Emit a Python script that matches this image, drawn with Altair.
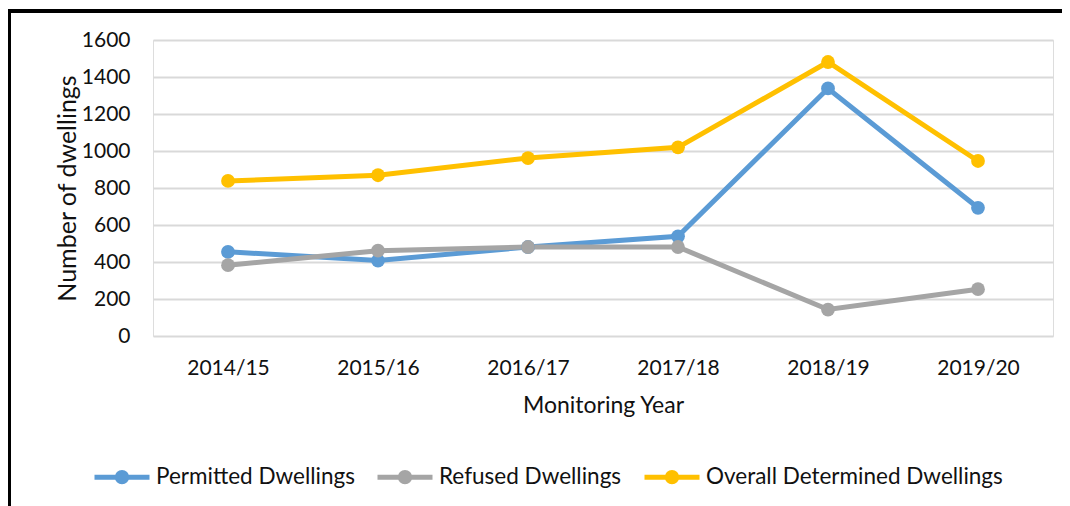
import altair as alt
import pandas as pd

years = ["2014/15", "2015/16", "2016/17", "2017/18", "2018/19", "2019/20"]
permitted = [455, 408, 481, 539, 1338, 693]
refused = [383, 461, 481, 481, 143, 253]
overall = [838, 869, 962, 1020, 1481, 946]

series_names = ["Permitted Dwellings", "Refused Dwellings", "Overall Determined Dwellings"]
series_colors = ["#5B9BD5", "#A5A5A5", "#FFC000"]

rows = []
for name, vals in zip(series_names, [permitted, refused, overall]):
    for y, v in zip(years, vals):
        rows.append({"year": y, "value": v, "series": name})
df = pd.DataFrame(rows)

FONT = "Lato"

color = alt.Color(
    "series:N",
    scale=alt.Scale(domain=series_names, range=series_colors),
    sort=series_names,
    legend=alt.Legend(
        title=None,
        orient="none",
        legendX=-61,
        legendY=407,
        direction="horizontal",
        symbolType="M-1,0H1M-0.17,0a0.17,0.17 0 1,0 0.34,0a0.17,0.17 0 1,0 -0.34,0",
        symbolSize=3025,
        symbolStrokeWidth=5,
        symbolOpacity=1,
        labelFont=FONT,
        labelFontSize=22.5,
        labelColor="#111111",
        labelOffset=4,
        columnPadding=12,
        labelLimit=400,
    ),
)

x = alt.X(
    "year:N",
    sort=years,
    scale=alt.Scale(paddingInner=0, paddingOuter=0),
    axis=alt.Axis(
        title="Monitoring Year",
        labelAngle=0,
        domain=False,
        ticks=False,
        grid=False,
        labelFont=FONT,
        labelFontSize=21,
        labelColor="#111111",
        labelPadding=21,
        titleFont=FONT,
        titleFontSize=23,
        titleFontWeight="normal",
        titleColor="#111111",
        titlePadding=16,
    ),
)
y = alt.Y(
    "value:Q",
    scale=alt.Scale(domain=[0, 1600]),
    axis=alt.Axis(
        title="Number of dwellings",
        values=[0, 200, 400, 600, 800, 1000, 1200, 1400, 1600],
        format="d",
        domain=False,
        ticks=False,
        grid=True,
        gridColor="#D9D9D9",
        gridWidth=2,
        labelFont=FONT,
        labelFontSize=21,
        labelColor="#111111",
        labelPadding=23,
        titleFont=FONT,
        titleFontSize=25,
        titleFontWeight="normal",
        titleColor="#111111",
        titlePadding=1,
    ),
)

lines = alt.Chart(df).mark_line(strokeWidth=5, point=alt.OverlayMarkDef(filled=True, size=190, opacity=1)).encode(
    x=x, y=y, color=color
)

top_border = alt.Chart(df).mark_rule(stroke="#000000", strokeWidth=2.5, clip=False).encode(
    x=alt.value(-145),
    x2=alt.value(909),
    y=alt.value(-29),
)
left_border = alt.Chart(df).mark_rule(stroke="#000000", strokeWidth=2.5, clip=False).encode(
    x=alt.value(-144),
    y=alt.value(-30),
    y2=alt.value(466),
)

chart = alt.layer(lines, top_border, left_border).properties(
    width=900,
    height=296,
    autosize=alt.AutoSizeParams(type="none"),
    padding={"left": 145, "top": 32, "right": 9, "bottom": 170},
).configure_view(stroke=None).configure(background="white")

chart.save("out.html", embed_options={"renderer": "svg", "actions": False})
